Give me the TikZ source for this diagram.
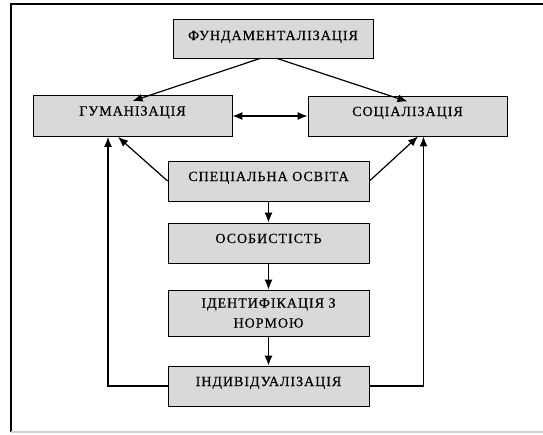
\documentclass[tikz,border=0pt]{standalone}
\usepackage{fontspec}
\setmainfont{Liberation Serif}[LetterSpace=7,FakeBold=0.5]
\usetikzlibrary{arrows.meta}
\definecolor{boxgray}{RGB}{217,217,217}
\tikzset{
  stage/.style={draw=black,fill=boxgray,line width=0.9pt,inner ysep=0pt,
    minimum width=200pt,text height=20pt,text depth=20pt,
    font=\fontsize{14}{20}\selectfont},
  link/.style={line width=1.2pt,-{Latex[length=10pt,width=8pt]}}
}
\begin{document}
\begin{tikzpicture}[x=1pt,y=-1pt]
\useasboundingbox (0,0) rectangle (543,434);
% page frame
\draw[line width=1.2pt] (543,4) -- (11,4) -- (11,432);
\draw[gray!35,line width=1.2pt] (11,432) -- (543,432);

% boxes
\node[stage,text height=21pt,text depth=18pt] (fund) at (273,38.5) {ФУНДАМЕНТАЛІЗАЦІЯ};
\node[stage,minimum width=199pt,text depth=21pt] (hum) at (132.5,116) {ГУМАНІЗАЦІЯ};
\node[stage,minimum width=199pt] (soc) at (407.5,116) {СОЦІАЛІЗАЦІЯ};
\node[stage,minimum width=201pt] (spec) at (268.5,181) {СПЕЦІАЛЬНА ОСВІТА};
\node[stage,minimum width=201pt] (osob) at (268.5,243) {ОСОБИСТІСТЬ};
\node[stage,minimum width=201pt,minimum height=46pt,text height=,text depth=,
  align=center] (ident) at (268.5,313) {ІДЕНТИФІКАЦІЯ З\\НОРМОЮ};
\node[stage,minimum width=201pt] (indiv) at (268.5,386) {ІНДИВІДУАЛІЗАЦІЯ};

% connectors
\draw[link] ([xshift=-13pt]fund.south) -- ([yshift=-6pt]hum.north);
\draw[link] ([xshift=4pt]fund.south) -- ([yshift=-6pt]soc.north);
\draw[line width=1.2pt,{Latex[length=10pt,width=8pt]}-{Latex[length=10pt,width=8pt]}] (hum.east) -- (soc.west);
\draw[link] (spec.west) -- ([xshift=-14.5pt]hum.south);
\draw[link] (spec.east) -- ([xshift=10.5pt]soc.south);
\draw[link] (spec.south) -- (osob.north);
\draw[link] (osob.south) -- (ident.north);
\draw[link] (ident.south) -- (indiv.north);
\draw[link] (indiv.west) -| ([xshift=-24.5pt]hum.south);
\draw[link] (indiv.east) -| ([xshift=16pt]soc.south);
\end{tikzpicture}
\end{document}
